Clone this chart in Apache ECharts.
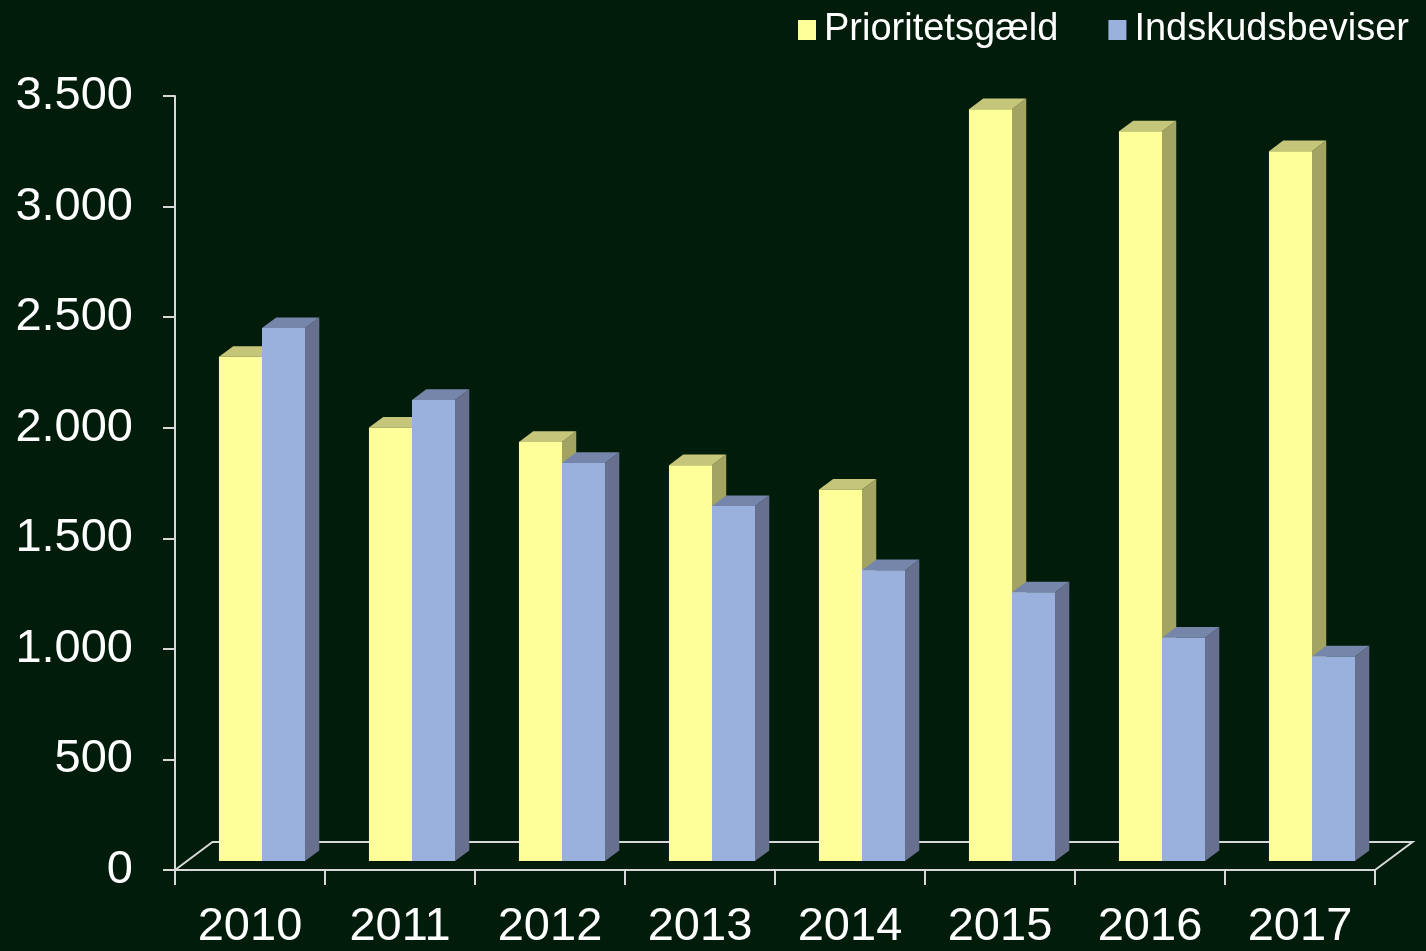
<!DOCTYPE html>
<html>
<head>
<meta charset="utf-8">
<script src="https://cdn.jsdelivr.net/npm/echarts@6/dist/echarts.min.js"></script>
<style>
html,body{margin:0;padding:0;background:#011c0b;}
#chart{width:1426px;height:951px;}
</style>
</head>
<body>
<div id="chart"></div>
<script>
const categories = ['2010','2011','2012','2013','2014','2015','2016','2017'];
const prioritetsgaeld = [2280, 1960, 1895, 1790, 1680, 3400, 3300, 3210];
const indskudsbeviser = [2410, 2085, 1800, 1605, 1315, 1215, 1010, 925];
const seriesNames = ['Prioritetsgæld', 'Indskudsbeviser'];
const yTicks = {min: 0, max: 3500, interval: 500};

const FONT = '"Liberation Sans", Arial, sans-serif';
const AXIS_COLOR = '#d8d8d8';
const faceColors = [
  {front: '#ffff99', top: '#c6c67a', side: '#a4a462'},
  {front: '#9ab1dd', top: '#7686aa', side: '#67718f'}
];

function fmt(v){
  if (v >= 1000) return Math.floor(v/1000) + '.' + String(v % 1000).padStart(3, '0');
  return String(v);
}

function geom(api){
  const catW = api.size([1, 0])[0];
  const D = [catW * 0.25, -catW * 0.1867];
  return {catW, D};
}

function barRender(sIdx){
  return function(params, api){
    const {catW, D} = geom(api);
    const idx = api.value(0);
    const base = api.coord([idx, 0]);
    const top = api.coord([idx, api.value(1)]);
    const off = [D[0] * 0.32, D[1] * 0.32];
    const dd = [D[0] * 0.38, D[1] * 0.38];
    const bw = catW * 0.287;
    const x0 = base[0] + off[0] + (sIdx === 0 ? -bw : 0);
    const x1 = x0 + bw;
    const yb = base[1] + off[1];
    const yt = top[1] + off[1];
    const c = faceColors[sIdx];
    return {
      type: 'group',
      children: [
        {type: 'polygon', shape: {points: [[x1, yt], [x1 + dd[0], yt + dd[1]], [x1 + dd[0], yb + dd[1]], [x1, yb]]}, style: {fill: c.side}},
        {type: 'polygon', shape: {points: [[x0, yt], [x0 + dd[0], yt + dd[1]], [x1 + dd[0], yt + dd[1]], [x1, yt]]}, style: {fill: c.top}},
        {type: 'rect', shape: {x: x0, y: yt, width: bw, height: yb - yt}, style: {fill: c.front}}
      ]
    };
  };
}

function floorRender(params, api){
  const {catW, D} = geom(api);
  const a = api.coord([0, 0]);
  const b = api.coord([categories.length - 1, 0]);
  const xL = a[0] - catW / 2, xR = b[0] + catW / 2, y0 = a[1];
  return {
    type: 'polyline',
    shape: {points: [[xL, y0], [xL + D[0], y0 + D[1]], [xR + D[0], y0 + D[1]], [xR, y0]]},
    style: {stroke: AXIS_COLOR, lineWidth: 2, fill: null}
  };
}

const chart = echarts.init(document.getElementById('chart'));
chart.setOption({
  backgroundColor: '#011c0b',
  animation: false,
  textStyle: {fontFamily: FONT},
  legend: {
    data: seriesNames,
    right: 12,
    top: 6,
    icon: 'rect',
    itemWidth: 18,
    itemHeight: 20,
    itemGap: 50,
    textStyle: {color: '#ffffff', fontSize: 38, fontFamily: FONT, padding: [0, 0, 0, 3]}
  },
  grid: {left: 175, right: 51, top: 96, bottom: 69, containLabel: false},
  xAxis: {
    type: 'category',
    data: categories,
    boundaryGap: true,
    axisLine: {show: true, lineStyle: {color: AXIS_COLOR, width: 2}},
    axisTick: {show: true, length: 15, lineStyle: {color: AXIS_COLOR, width: 2}},
    axisLabel: {color: '#ffffff', fontSize: 47, fontFamily: FONT, margin: 34},
    splitLine: {show: false}
  },
  yAxis: {
    type: 'value',
    min: yTicks.min, max: yTicks.max, interval: yTicks.interval,
    axisLine: {show: true, lineStyle: {color: AXIS_COLOR, width: 2}},
    axisTick: {show: true, length: 12, lineStyle: {color: AXIS_COLOR, width: 2}},
    axisLabel: {color: '#ffffff', fontSize: 47, fontFamily: FONT, margin: 42, formatter: fmt},
    splitLine: {show: false}
  },
  series: [
    {type: 'custom', name: 'floor', silent: true, renderItem: floorRender, data: [[0]], z: 1},
    {type: 'custom', name: seriesNames[0], renderItem: barRender(0), itemStyle: {color: faceColors[0].front},
      data: prioritetsgaeld.map((v, i) => [i, v]), encode: {x: 0, y: 1}, z: 2},
    {type: 'custom', name: seriesNames[1], renderItem: barRender(1), itemStyle: {color: faceColors[1].front},
      data: indskudsbeviser.map((v, i) => [i, v]), encode: {x: 0, y: 1}, z: 3}
  ]
});
</script>
</body>
</html>
